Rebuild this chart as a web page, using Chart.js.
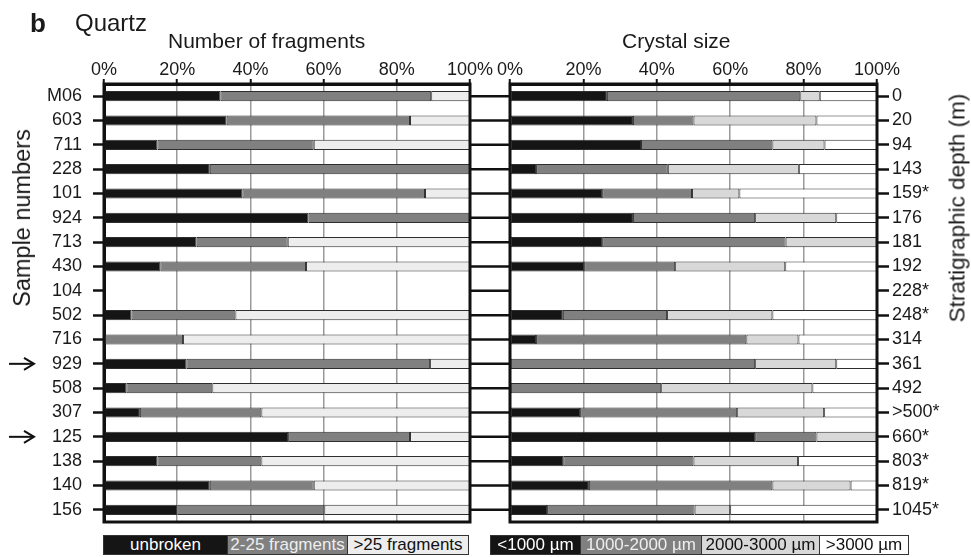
<!DOCTYPE html>
<html><head><meta charset="utf-8">
<script src="https://cdn.jsdelivr.net/npm/chart.js@4.4.1/dist/chart.umd.min.js"></script>
<style>
html,body{margin:0;padding:0;background:#fff;}
#wrap{position:relative;width:971px;height:557px;overflow:hidden;font-family:'Liberation Sans',Arial,sans-serif;color:#1a1a1a;}
#wrap canvas{position:absolute;left:0;top:0;}
.t{position:absolute;white-space:nowrap;}
.v{position:absolute;white-space:nowrap;transform:translate(-50%,-50%) rotate(-90deg);}
.leg{position:absolute;top:535px;height:20px;display:flex;}
.leg div{box-sizing:border-box;height:20px;border:1px solid #333;text-align:center;font-size:17px;line-height:18px;white-space:nowrap;overflow:hidden;}
</style></head>
<body>
<div id="wrap">
  <canvas id="c1" width="971" height="557"></canvas>
  <canvas id="c2" width="971" height="557"></canvas>
  <div class="t" style="left:30px;top:10px;font-size:26px;line-height:26px;font-weight:bold;">b</div>
  <div class="t" style="left:75px;top:11px;font-size:24px;line-height:24px;">Quartz</div>
  <div class="t" style="left:168px;top:30px;font-size:21px;line-height:21px;">Number of fragments</div>
  <div class="t" style="left:622px;top:30px;font-size:21px;line-height:21px;">Crystal size</div>
  <div class="v" style="left:22px;top:218px;font-size:23.5px;line-height:24px;">Sample numbers</div>
  <div class="v" style="left:957px;top:208px;font-size:22.5px;line-height:23px;">Stratigraphic depth (m)</div>
  <div class="leg" id="leg1" style="left:103px;"></div>
  <div class="leg" id="leg2" style="left:490px;"></div>
</div>
<script>
// ---- data ----
const samples = ['M06','603','711','228','101','924','713','430','104','502','716','929','508','307','125','138','140','156'];
const depths  = ['0','20','94','143','159*','176','181','192','228*','248*','314','361','492','>500*','660*','803*','819*','1045*'];
const arrowSamples = ['929','125'];

const fragLabels = ['unbroken','2-25 fragments','>25 fragments'];
const unbroken   = [31.8,33.5,14.6,28.9,37.8,55.9,25.3,15.4,null,7.5,0,22.5,6.1,9.8,50.3,14.6,28.9,20.1];
const frag2to25  = [57.6,50.1,42.7,71.1,49.9,44.1,24.9,39.8,null,28.4,21.6,66.6,23.5,33.2,33.3,28.4,28.4,40.1];
const fragOver25 = [10.6,16.4,42.7,0,12.3,0,49.8,44.8,null,64.1,78.4,10.9,70.4,57.0,16.4,57.0,42.7,39.8];

const sizeLabels = ['<1000 µm','1000-2000 µm','2000-3000 µm','>3000 µm'];
const sizeLt1000    = [26.4,33.5,35.7,7.1,25.1,33.5,25.1,20.2,null,14.4,7.1,0,0,19.1,66.8,14.5,21.5,10.1];
const size1000_2000 = [52.7,16.5,35.8,35.9,24.5,33.3,50.0,24.8,null,28.4,57.3,66.8,41.2,42.8,16.7,35.5,50.0,40.2];
const size2000_3000 = [5.3,33.5,14.2,35.7,12.9,22.1,24.9,30.0,null,28.7,14.2,22.1,41.2,23.7,16.5,28.5,21.3,9.7];
const sizeGt3000    = [15.6,16.5,14.3,21.3,37.5,11.1,0,25.0,null,28.5,21.4,11.1,17.6,14.4,0,21.5,7.2,40.0];

const xTicks = [0,20,40,60,80,100];

// ---- styles ----
const FONT = "'Liberation Sans', Arial, sans-serif";
Chart.defaults.font.family = FONT;
Chart.defaults.font.size = 18;
Chart.defaults.color = '#1a1a1a';
const fragColors = ['#151515','#808080','#ecedec'];
const fragText   = ['#ffffff','#eeeeee','#111111'];
const sizeColors = ['#151515','#808080','#d8d8d8','#ffffff'];
const sizeText   = ['#ffffff','#eeeeee','#111111','#111111'];

function ds(label, data, color){
  return {label, data, backgroundColor:color, borderColor:'#2e2e2e', borderWidth:1,
          borderSkipped:false, barPercentage:0.42, categoryPercentage:1.0};
}
function xScale(){
  return {
    type:'linear', position:'top', min:0, max:100, stacked:true,
    afterBuildTicks: s => { s.ticks = xTicks.map(v=>({value:v})); },
    ticks:{callback:v=>v+'%', font:{size:18}, color:'#1a1a1a', padding:-2, maxRotation:0, autoSkip:false},
    grid:{color:'#9a9a9a', lineWidth:1.5, tickColor:'#111', tickLength:5, tickWidth:2},
    border:{display:true, color:'#111', width:3},
    afterFit: s => { s.height = 84; }
  };
}
const framePlugin = {
  id:'frame',
  afterDatasetsDraw(chart){
    const {ctx, chartArea:a} = chart;
    ctx.save(); ctx.strokeStyle='#111'; ctx.lineWidth=3;
    ctx.strokeRect(a.left, a.top, a.right-a.left, a.bottom-a.top);
    ctx.restore();
  }
};
const arrowPlugin = {
  id:'arrows',
  afterDraw(chart){
    const {ctx, scales:{y}} = chart;
    ctx.save(); ctx.strokeStyle='#111'; ctx.lineWidth=2;
    arrowSamples.forEach(s=>{
      const py = y.getPixelForValue(samples.indexOf(s));
      ctx.beginPath(); ctx.moveTo(9,py); ctx.lineTo(34,py); ctx.stroke();
      ctx.beginPath(); ctx.moveTo(24,py-6); ctx.lineTo(34,py); ctx.lineTo(24,py+6); ctx.stroke();
    });
    ctx.restore();
  }
};
const connectorPlugin = {
  id:'connectors',
  afterDraw(chart){
    const {ctx, chartArea:a, scales:{y}} = chart;
    ctx.save(); ctx.strokeStyle='#111'; ctx.lineWidth=2.5;
    samples.forEach((s,i)=>{
      const py = y.getPixelForValue(i);
      ctx.beginPath(); ctx.moveTo(a.left-40,py); ctx.lineTo(a.left,py); ctx.stroke();
    });
    ctx.restore();
  }
};

new Chart(document.getElementById('c1'), {
  type:'bar',
  data:{labels:samples, datasets:[ds(fragLabels[0],unbroken,fragColors[0]), ds(fragLabels[1],frag2to25,fragColors[1]), ds(fragLabels[2],fragOver25,fragColors[2])]},
  options:{
    indexAxis:'y', responsive:false, animation:false, devicePixelRatio:1,
    layout:{padding:{left:0, right:501, top:0, bottom:35}},
    plugins:{legend:{display:false}, tooltip:{enabled:false}},
    scales:{
      x:xScale(),
      y:{type:'category', position:'left', stacked:true, offset:true,
         ticks:{font:{size:18}, color:'#1a1a1a', padding:11, autoSkip:false},
         grid:{drawOnChartArea:false, offset:false, tickLength:11, tickColor:'#111', tickWidth:2.5},
         border:{display:true, color:'#111', width:3},
         afterFit: s => { s.width = 104; }}
    }
  },
  plugins:[framePlugin, arrowPlugin]
});

new Chart(document.getElementById('c2'), {
  type:'bar',
  data:{labels:samples, datasets:[ds(sizeLabels[0],sizeLt1000,sizeColors[0]), ds(sizeLabels[1],size1000_2000,sizeColors[1]), ds(sizeLabels[2],size2000_3000,sizeColors[2]), ds(sizeLabels[3],sizeGt3000,sizeColors[3])]},
  options:{
    indexAxis:'y', responsive:false, animation:false, devicePixelRatio:1,
    layout:{padding:{left:0, right:0, top:0, bottom:35}},
    plugins:{legend:{display:false}, tooltip:{enabled:false}},
    scales:{
      x:xScale(),
      y:{type:'category', position:'left', stacked:true, offset:true,
         ticks:{display:false}, grid:{display:false, offset:false}, border:{display:false},
         afterFit: s => { s.width = 510; }},
      y2:{type:'category', labels:depths, position:'right', offset:true,
         ticks:{font:{size:18}, color:'#1a1a1a', padding:3, autoSkip:false},
         grid:{drawOnChartArea:false, offset:false, tickLength:12, tickColor:'#111', tickWidth:2.5},
         border:{display:false},
         afterFit: s => { s.width = 94; }}
    }
  },
  plugins:[framePlugin, connectorPlugin]
});

// ---- HTML legends built from the series ----
function buildLegend(el, labels, colors, textColors, widths){
  labels.forEach((l,i)=>{
    const d = document.createElement('div');
    d.textContent = l;
    d.style.width = widths[i]+'px';
    d.style.background = colors[i];
    d.style.color = textColors[i];
    if(i>0) d.style.marginLeft = '-1px';
    el.appendChild(d);
  });
}
buildLegend(document.getElementById('leg1'), fragLabels, fragColors, fragText, [125,121,122]);
buildLegend(document.getElementById('leg2'), sizeLabels, sizeColors, sizeText, [91,122,119,90]);
</script>
</body></html>
